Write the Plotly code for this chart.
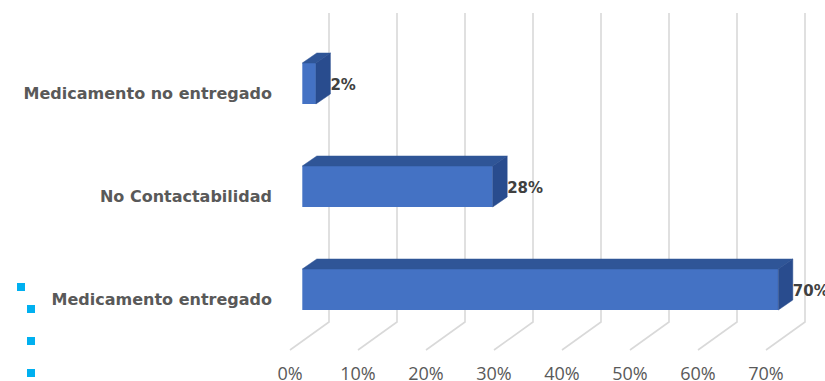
import plotly.graph_objects as go

categories = ["Medicamento entregado", "No Contactabilidad", "Medicamento no entregado"]
values = [70, 28, 2]
value_labels = ["70%", "28%", "2%"]
tick_values = [0, 10, 20, 30, 40, 50, 60, 70]
tick_labels = ["0%", "10%", "20%", "30%", "40%", "50%", "60%", "70%"]

W, H = 825, 381
L, B = 280, 29
PW, PH = W - L, H - B
PX_PER_UNIT = 6.8
PX_PER_CAT = 103.0
AXIS_ZERO_PX = 290
BAR_ZERO_PX = 302.3
LABEL_ROW0_PX = 299
BAR_ROW0_PX = 289.5
BAR_WIDTH = 41 / PX_PER_CAT
BAR_DX = 14.5 / PX_PER_UNIT
BAR_DY = 10 / PX_PER_CAT
FRONT = "#4472C4"
TOP = "#2F5597"
SIDE = "#294C8E"
GRID = "#D9D9D9"


def x_range(zero_px):
    return [(L - zero_px) / PX_PER_UNIT, (W - zero_px) / PX_PER_UNIT]


def y_range(row0_px):
    return [(row0_px - PH) / PX_PER_CAT, row0_px / PX_PER_CAT]


def main_y(px):
    return (LABEL_ROW0_PX - px) / PX_PER_CAT


fig = go.Figure()

wall_dx = (329 - AXIS_ZERO_PX) / PX_PER_UNIT
gx, gy = [], []
for t in tick_values:
    gx += [t, t + wall_dx, t + wall_dx, None]
    gy += [main_y(350), main_y(322), main_y(13), None]
fig.add_trace(go.Scatter(x=gx, y=gy, mode="lines", line=dict(color=GRID, width=1.6),
                         hoverinfo="skip", showlegend=False, xaxis="x", yaxis="y"))

rows = list(range(len(categories)))
fig.add_trace(go.Bar(x=values, y=rows, orientation="h", width=BAR_WIDTH,
                     marker=dict(color=FRONT, line=dict(width=0)),
                     showlegend=False, xaxis="x2", yaxis="y2"))

for v, r in zip(values, rows):
    hi = r + BAR_WIDTH / 2
    lo = r - BAR_WIDTH / 2
    fig.add_trace(go.Scatter(
        x=[0, BAR_DX, v + BAR_DX, v, 0], y=[hi, hi + BAR_DY, hi + BAR_DY, hi, hi],
        mode="lines", fill="toself", fillcolor=TOP, line=dict(color=TOP, width=0.5),
        hoverinfo="skip", showlegend=False, xaxis="x2", yaxis="y2"))
    fig.add_trace(go.Scatter(
        x=[v, v + BAR_DX, v + BAR_DX, v, v], y=[hi, hi + BAR_DY, lo + BAR_DY, lo, hi],
        mode="lines", fill="toself", fillcolor=SIDE, line=dict(color=SIDE, width=0.5),
        hoverinfo="skip", showlegend=False, xaxis="x2", yaxis="y2"))

fig.add_trace(go.Scatter(
    x=[v + BAR_DX for v in values], y=[r - 0.022 for r in rows], mode="text", text=value_labels,
    textposition="middle right",
    textfont=dict(family="DejaVu Sans", size=15, color="#404040", weight="bold"),
    cliponaxis=False, hoverinfo="skip", showlegend=False, xaxis="x2", yaxis="y2"))

bullets_px = [(21, 287), (31, 309), (31, 341), (31, 373)]
shapes = []
for bx, by in bullets_px:
    shapes.append(dict(type="rect", xref="paper", yref="paper",
                       x0=(bx - 4 - L) / PW, x1=(bx + 4 - L) / PW,
                       y0=(PH - by - 4) / PH, y1=(PH - by + 4) / PH,
                       fillcolor="#00B0F0", line=dict(width=0)))

fig.update_layout(
    width=W, height=H, autosize=False,
    margin=dict(l=L, r=0, t=0, b=B, autoexpand=False),
    paper_bgcolor="white", plot_bgcolor="white",
    shapes=shapes, showlegend=False,
    xaxis=dict(range=x_range(AXIS_ZERO_PX), tickvals=tick_values, ticktext=tick_labels,
               showgrid=False, zeroline=False, showline=False, ticks="", automargin=False,
               ticklabelstandoff=9,
               tickfont=dict(family="Open Sans", size=18, color="#595959")),
    yaxis=dict(range=y_range(LABEL_ROW0_PX), tickvals=rows, ticktext=categories,
               showgrid=False, zeroline=False, showline=False, ticks="", automargin=False,
               ticklabelstandoff=7,
               tickfont=dict(family="DejaVu Sans", size=16, color="#595959", weight="bold")),
    xaxis2=dict(range=x_range(BAR_ZERO_PX), overlaying="x", anchor="y2", visible=False),
    yaxis2=dict(range=y_range(BAR_ROW0_PX), overlaying="y", anchor="x2", visible=False),
)

fig.write_html("out.html", config={"displayModeBar": False},
               post_script="document.body.style.margin='0';document.body.style.overflow='hidden';")
